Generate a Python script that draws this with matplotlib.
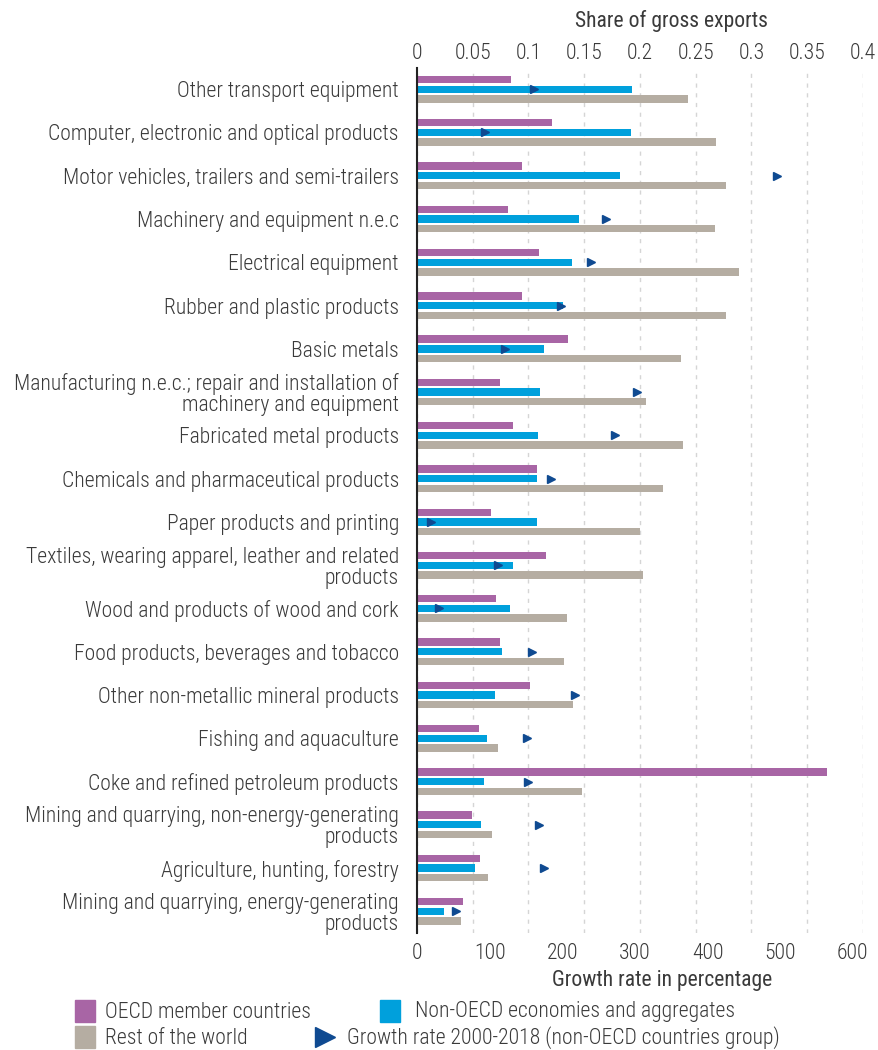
import matplotlib
matplotlib.use("Agg")
import matplotlib.pyplot as plt
import numpy as np
from matplotlib import font_manager
from matplotlib.lines import Line2D
from matplotlib.patches import Rectangle

# data
sectors = [
    "Other transport equipment",
    "Computer, electronic and optical products",
    "Motor vehicles, trailers and semi-trailers",
    "Machinery and equipment n.e.c",
    "Electrical equipment",
    "Rubber and plastic products",
    "Basic metals",
    "Manufacturing n.e.c.; repair and installation of\nmachinery and equipment",
    "Fabricated metal products",
    "Chemicals and pharmaceutical products",
    "Paper products and printing",
    "Textiles, wearing apparel, leather and related\nproducts",
    "Wood and products of wood and cork",
    "Food products, beverages and tobacco",
    "Other non-metallic mineral products",
    "Fishing and aquaculture",
    "Coke and refined petroleum products",
    "Mining and quarrying, non-energy-generating\nproducts",
    "Agriculture, hunting, forestry",
    "Mining and quarrying, energy-generating\nproducts",
]
oecd = [0.0845, 0.121, 0.094, 0.082, 0.109, 0.094, 0.1355, 0.0747, 0.0858, 0.1077,
        0.0663, 0.116, 0.071, 0.0747, 0.1013, 0.0552, 0.368, 0.0492, 0.0564, 0.0417]
non_oecd = [0.193, 0.1916, 0.182, 0.1454, 0.139, 0.1307, 0.1137, 0.110, 0.1088, 0.1077,
            0.1077, 0.0858, 0.0834, 0.0759, 0.0699, 0.0624, 0.060, 0.0576, 0.0516, 0.0246]
rest_world = [0.2428, 0.2683, 0.2767, 0.2671, 0.289, 0.2767, 0.2369, 0.205, 0.239, 0.221,
              0.2003, 0.2027, 0.1343, 0.1319, 0.1403, 0.0723, 0.1478, 0.0674, 0.0638, 0.0393]
growth = [161, 94, 495, 260, 239, 198, 121, 303, 273, 185,
          19, 112, 30, 159, 217, 151, 153, 168, 175, 54]

share_ticks = [0, 0.05, 0.1, 0.15, 0.2, 0.25, 0.3, 0.35, 0.4]
share_labels = ["0", "0.05", "0.1", "0.15", "0.2", "0.25", "0.3", "0.35", "0.4"]
growth_ticks = [0, 100, 200, 300, 400, 500, 600]

c_oecd = "#a865a5"
c_non = "#00a0dc"
c_row = "#b5ada2"
c_tri = "#0f4a91"
txt = "#3a3a3a"

names = {f.name for f in font_manager.fontManager.ttflist}
family = "Roboto Condensed" if "Roboto Condensed" in names else "Roboto"
plt.rcParams["font.family"] = [family, "DejaVu Sans"]
plt.rcParams["font.weight"] = "light"
fs = 15.6

fig = plt.figure(figsize=(8.79, 10.5), dpi=100)
ax = fig.add_axes([417 / 879, 1 - 933 / 1050, 446 / 879, 865 / 1050])
ax2 = ax.twiny()

y = np.arange(len(sectors))
off = 0.2235
h = 0.17
ax.barh(y - off, oecd, height=h, color=c_oecd, zorder=2)
ax.barh(y, non_oecd, height=h, color=c_non, zorder=2)
ax.barh(y + off, rest_world, height=h, color=c_row, zorder=2)

ax.set_xlim(0, 0.4)
ax.set_ylim(19.5, -0.49)
ax.set_yticks(y)
ax.set_yticklabels(sectors, fontsize=fs, color=txt, linespacing=1.0)
ax.xaxis.tick_top()
ax.xaxis.set_label_position("top")
ax.set_xticks(share_ticks)
ax.set_xticklabels(share_labels, fontsize=fs, color=txt)
ax.tick_params(axis="x", length=0, pad=3)
ax.tick_params(axis="y", length=0, pad=13)
ax.set_xlabel("Share of gross exports", fontsize=fs, color=txt)
ax.xaxis.set_label_coords(0.57, 1.047)
ax.grid(axis="x", color="#d5d5d5", linestyle=(0, (3, 4)), linewidth=1, zorder=0)
for s in ["top", "right", "bottom"]:
    ax.spines[s].set_visible(False)
ax.spines["left"].set_color("#222222")
ax.spines["left"].set_linewidth(1.5)
ax.spines["left"].set_zorder(3)

ax2.plot(growth, y, linestyle="none", marker=">", markersize=6, color=c_tri, zorder=4)
ax2.set_xlim(0, 614)
ax2.set_ylim(19.5, -0.49)
ax2.xaxis.tick_bottom()
ax2.xaxis.set_label_position("bottom")
ax2.set_xticks(growth_ticks)
ax2.set_xticklabels([str(t) for t in growth_ticks], fontsize=fs, color=txt)
ax2.tick_params(axis="x", length=0, pad=7)
ax2.set_xlabel("Growth rate in percentage", fontsize=fs, color=txt)
ax2.xaxis.set_label_coords(0.55, -0.043)
for s in ax2.spines.values():
    s.set_visible(False)

# legend drawn by hand to match the staggered layout
def px(x, yy):
    return x / 879, 1 - yy / 1050

for (x0, y0, col) in [(75, 1000, c_oecd), (380, 1000, c_non), (75, 1026, c_row)]:
    fx, fy = px(x0, y0 + 22)
    fig.add_artist(Rectangle((fx, fy), 20 / 879, 22 / 1050, transform=fig.transFigure,
                             color=col))
tx, ty = px(325, 1037)
fig.add_artist(Line2D([tx], [ty], marker=">", markersize=15, color=c_tri,
                      transform=fig.transFigure))
for (x0, y0, s) in [(105, 1012, "OECD member countries"),
                    (415, 1012, "Non-OECD economies and aggregates"),
                    (105, 1038, "Rest of the world"),
                    (347, 1038, "Growth rate 2000-2018 (non-OECD countries group)")]:
    fx, fy = px(x0, y0)
    fig.text(fx, fy, s, fontsize=fs, color=txt, ha="left", va="center")

fig.savefig("out.png", dpi=100)
